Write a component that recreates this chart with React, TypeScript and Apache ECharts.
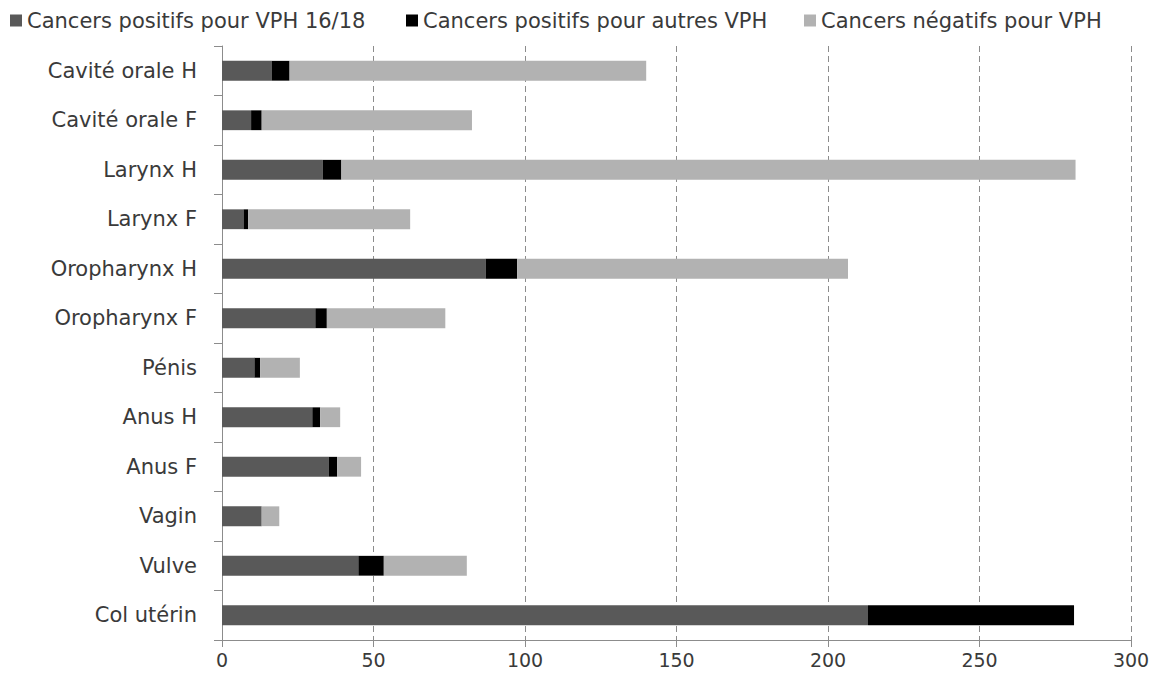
import React, { useEffect, useRef } from "react";
import * as echarts from "echarts";

const categories = [
  "Col utérin",
  "Vulve",
  "Vagin",
  "Anus F",
  "Anus H",
  "Pénis",
  "Oropharynx F",
  "Oropharynx H",
  "Larynx F",
  "Larynx H",
  "Cavité orale F",
  "Cavité orale H",
];

const hpv1618 = [213.2, 45.0, 13.1, 35.3, 29.8, 10.7, 30.8, 87.0, 7.1, 33.3, 9.6, 16.5];
const hpvOther = [68.0, 8.4, 0, 2.7, 2.6, 1.9, 3.8, 10.4, 1.5, 6.1, 3.5, 5.8];
const hpvNegative = [0, 27.4, 5.8, 7.9, 6.6, 13.1, 39.1, 109.2, 53.5, 242.3, 69.4, 117.7];

const seriesNames = [
  "Cancers positifs pour VPH 16/18",
  "Cancers positifs pour autres VPH",
  "Cancers négatifs pour VPH",
];
const xTicks = [0, 50, 100, 150, 200, 250, 300];

const FONT = "DejaVu Sans, Verdana, sans-serif";

export default function App() {
  const ref = useRef<HTMLDivElement>(null);
  useEffect(() => {
    if (!ref.current) return;
    const chart = echarts.init(ref.current, null, { renderer: "svg" });
    const colors = ["#595959", "#000000", "#b2b2b2"];
    const datasets = [hpv1618, hpvOther, hpvNegative];
    const legendLefts = [5, 401, 799];
    chart.setOption({
      animation: false,
      backgroundColor: "#ffffff",
      textStyle: { fontFamily: FONT },
      legend: seriesNames.map((name, i) => ({
        top: 5,
        left: legendLefts[i],
        itemWidth: 12,
        itemHeight: 12,
        itemGap: 0,
        icon: "rect",
        textStyle: { fontSize: 21, color: "#3a3a3a", fontFamily: FONT },
        data: [name],
      })),
      grid: { left: 222, right: 26, top: 46, bottom: 51, containLabel: false },
      xAxis: {
        type: "value",
        min: xTicks[0],
        max: xTicks[xTicks.length - 1],
        interval: 50,
        axisLine: { show: true, lineStyle: { color: "#8c8c8c", width: 1 } },
        axisTick: { show: true, length: 7, lineStyle: { color: "#8c8c8c" } },
        axisLabel: { fontSize: 19, color: "#3a3a3a", margin: 10, fontFamily: FONT },
        splitLine: {
          show: true,
          lineStyle: { color: "#8c8c8c", type: [6, 4], width: 1 },
        },
      },
      yAxis: {
        type: "category",
        data: categories,
        axisLine: { show: true, lineStyle: { color: "#8c8c8c", width: 1 } },
        axisTick: { show: true, length: 8, lineStyle: { color: "#8c8c8c" } },
        axisLabel: { fontSize: 21, color: "#3a3a3a", margin: 25, fontFamily: FONT },
        splitLine: { show: false },
      },
      series: seriesNames.map((name, i) => ({
        name,
        type: "bar",
        stack: "total",
        barWidth: "40%",
        data: datasets[i],
        itemStyle: { color: colors[i] },
        emphasis: { disabled: true },
      })),
    });
    return () => chart.dispose();
  }, []);
  return (
    <div
      ref={ref}
      style={{ position: "fixed", left: 0, top: 0, width: 1157, height: 691 }}
    />
  );
}
